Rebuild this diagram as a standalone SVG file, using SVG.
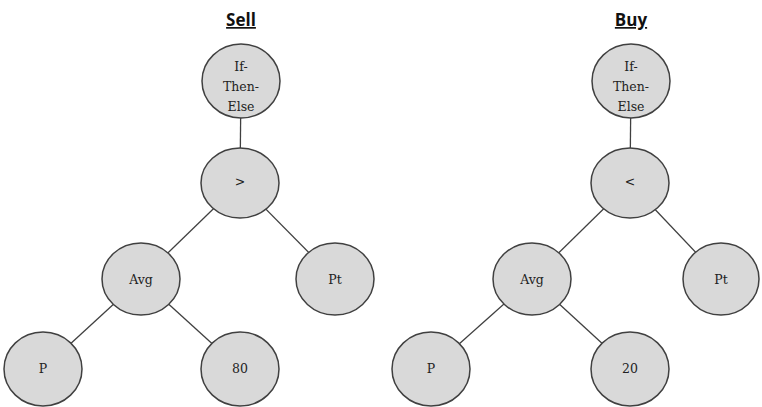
<svg xmlns="http://www.w3.org/2000/svg" width="762" height="407" viewBox="0 0 762 407">
<style>
.n{fill:#d9d9d9;stroke:#404040;stroke-width:1.5}
.t{font-family:"DejaVu Serif","Liberation Serif",serif;font-size:12.5px;fill:#222;text-anchor:middle;dominant-baseline:central}
.h{font-family:"Open Sans","Liberation Sans",sans-serif;font-size:17px;font-weight:bold;fill:#111;text-anchor:middle;text-decoration:underline}
.c{stroke:#404040;stroke-width:1.3;fill:none}
</style>
<rect width="762" height="407" fill="#fff"/>
<text class="h" x="241" y="26">Sell</text>
<text class="h" x="631" y="26">Buy</text>
<g id="connectors">
<line class="c" x1="241" y1="81" x2="240" y2="183"/>
<line class="c" x1="240" y1="183" x2="141" y2="279"/>
<line class="c" x1="240" y1="183" x2="335" y2="279"/>
<line class="c" x1="141" y1="279" x2="43" y2="369"/>
<line class="c" x1="141" y1="279" x2="240" y2="369"/>
<line class="c" x1="631" y1="81" x2="630" y2="183"/>
<line class="c" x1="630" y1="183" x2="532" y2="279"/>
<line class="c" x1="630" y1="183" x2="721" y2="279"/>
<line class="c" x1="532" y1="279" x2="431" y2="369"/>
<line class="c" x1="532" y1="279" x2="630" y2="369"/>
</g>
<g id="sell-if"><ellipse class="n" cx="241" cy="81" rx="39" ry="37"/><text class="t" x="241" y="66">If-</text><text class="t" x="241" y="86">Then-</text><text class="t" x="241" y="106">Else</text></g>
<g id="sell-gt"><ellipse class="n" cx="240" cy="183" rx="39" ry="35"/><text class="t" x="240" y="181">&gt;</text></g>
<g id="sell-avg"><ellipse class="n" cx="141" cy="279" rx="39" ry="36"/><text class="t" x="141" y="279">Avg</text></g>
<g id="sell-pt"><ellipse class="n" cx="335" cy="279" rx="39" ry="36"/><text class="t" x="335" y="279">Pt</text></g>
<g id="sell-p"><ellipse class="n" cx="43" cy="369" rx="39" ry="37"/><text class="t" x="43" y="368">P</text></g>
<g id="sell-80"><ellipse class="n" cx="240" cy="369" rx="39" ry="37"/><text class="t" x="240" y="368">80</text></g>
<g id="buy-if"><ellipse class="n" cx="631" cy="81" rx="39" ry="37"/><text class="t" x="631" y="66">If-</text><text class="t" x="631" y="86">Then-</text><text class="t" x="631" y="106">Else</text></g>
<g id="buy-lt"><ellipse class="n" cx="630" cy="183" rx="39" ry="35"/><text class="t" x="630" y="181">&lt;</text></g>
<g id="buy-avg"><ellipse class="n" cx="532" cy="279" rx="39" ry="36"/><text class="t" x="532" y="279">Avg</text></g>
<g id="buy-pt"><ellipse class="n" cx="721" cy="279" rx="38" ry="36"/><text class="t" x="721" y="279">Pt</text></g>
<g id="buy-p"><ellipse class="n" cx="431" cy="369" rx="39" ry="37"/><text class="t" x="431" y="368">P</text></g>
<g id="buy-20"><ellipse class="n" cx="630" cy="369" rx="39" ry="37"/><text class="t" x="630" y="368">20</text></g>
</svg>
